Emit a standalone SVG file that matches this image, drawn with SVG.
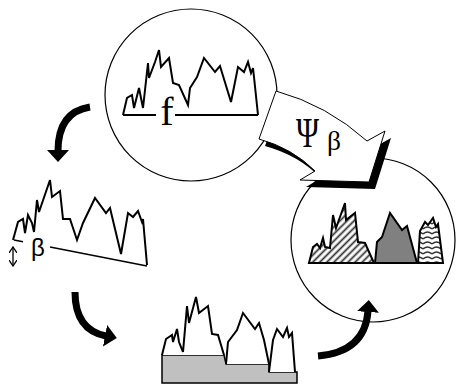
<svg xmlns="http://www.w3.org/2000/svg" width="457" height="385" viewBox="0 0 457 385">
<style>
.circ{fill:none;stroke:#000;stroke-width:1.2}
.curve{fill:none;stroke:#000;stroke-width:2;stroke-linejoin:miter}
.peak{stroke:#000;stroke-width:2;stroke-linejoin:miter}
.base{fill:none;stroke:#000;stroke-width:1.5}
.conn{fill:none;stroke:#000;stroke-width:7}
.serif{font-family:"Liberation Serif","Times New Roman",serif;fill:#000}
.sans{font-family:"Liberation Sans",Arial,sans-serif;fill:#000}
</style>
<defs>
<marker id="head" viewBox="0 0 12 22" refX="1" refY="11" markerWidth="12" markerHeight="22" markerUnits="userSpaceOnUse" orient="auto">
<path d="M0,0 L12,11 L0,22 Z" fill="#000"/>
</marker>
<marker id="small" viewBox="0 0 7 8" refX="6" refY="4" markerWidth="7" markerHeight="8" markerUnits="userSpaceOnUse" orient="auto-start-reverse">
<path d="M0,0 L6,4 L0,8" fill="none" stroke="#000" stroke-width="1.3"/>
</marker>
<pattern id="diag" patternUnits="userSpaceOnUse" width="5" height="5" patternTransform="rotate(45)">
<rect width="5" height="5" fill="#fff"/>
<line x1="1.5" y1="0" x2="1.5" y2="5" stroke="#333" stroke-width="1.8"/>
</pattern>
<pattern id="chev" patternUnits="userSpaceOnUse" width="9" height="5">
<rect width="9" height="5" fill="#fff"/>
<path d="M0,4 Q4.5,0 9,4" fill="none" stroke="#333" stroke-width="1.4"/>
</pattern>
</defs>

<g id="node-f">
<circle class="circ" cx="191" cy="95" r="86"/>
<path class="curve" d="M123,115 L127,98 L132,95 L134,108 L139,88 L143,108 L148,63 L149,78 L155,62 L159,50 L161,67 L169,58 L173,83 L179,85 L188,105 L190,88 L197,77 L204,58 L215,72 L220,66 L231,102 L238,67 L244,72 L248,62 L251,73 L253,68 L254,77 L258,115"/>
<line class="curve" x1="123" y1="115" x2="156" y2="115"/>
<line class="curve" x1="175" y1="115" x2="258" y2="115"/>
<text class="serif" x="167" y="125" font-size="40" text-anchor="middle">f</text>
</g>

<g id="node-result">
<circle class="circ" cx="373" cy="240" r="82"/>
<path class="peak" fill="url(#diag)" d="M309,263 L313,247 L317,244 L320,248 L323,238 L325,247 L330,248 L333,215 L336,228 L345,203 L346,220 L355,213 L358,242 L365,243 L374,263 Z"/>
<path class="peak" fill="#808080" d="M375,263 L377,242 L382,237 L390,213 L402,230 L407,226 L417,263 Z"/>
<path class="peak" fill="url(#chev)" d="M418,263 L420,231 L425,222 L428,225 L433,218 L436,227 L438,224 L443,263 Z"/>
<line class="curve" x1="309" y1="263" x2="443" y2="263"/>
</g>

<g id="node-tilted">
<path class="curve" d="M13,240 L18,222 L23,219 L25,233 L28,215 L32,223 L34,232 L37,200 L39,212 L50,180 L52,197 L60,191 L63,219 L70,219 L77,240 L83,223 L95,198 L106,213 L110,208 L121,254 L128,213 L133,217 L138,211 L142,222 L143,219 L147,265"/>
<line class="base" x1="14" y1="240" x2="23" y2="241.8"/>
<line class="base" x1="50" y1="247" x2="147" y2="266"/>
<line x1="13" y1="247" x2="13" y2="266" stroke="#000" stroke-width="1.3" marker-start="url(#small)" marker-end="url(#small)"/>
<text class="sans" x="31" y="256" font-size="24">β</text>
</g>

<g id="node-split">
<path fill="#c0c0c0" stroke="#000" stroke-width="1.5" d="M162,355 L224,355 L226,364 L269,364 L269,372 L297,372 L297,383 L162,383 Z"/>
<path class="peak" fill="#fff" d="M162,355 L166,339 L172,335 L173,342 L177,329 L179,342 L183,352 L187,306 L189,323 L196,297 L199,313 L208,306 L212,334 L218,335 L224,355"/>
<path class="peak" fill="#fff" d="M226,364 L228,342 L237,330 L243,313 L255,329 L259,323 L264,340 L269,364"/>
<path class="peak" fill="#fff" d="M269,372 L273,340 L277,329 L283,337 L287,328 L289,337 L292,333 L295,372"/>
</g>

<g id="connectors">
<path class="conn" d="M90,107 Q58,112 58,151" marker-end="url(#head)"/>
<path class="conn" d="M75,292 Q75,330 106,336" marker-end="url(#head)"/>
<path class="conn" d="M318,356 Q365,352 368,311" marker-end="url(#head)"/>
<g id="psi-arrow">
<path fill="#000" transform="translate(6,7)" d="M276,91 Q327,105 367,141 L385,131 L369,182 L300,180 L315,171 Q292,148 259,139 Z"/>
<path fill="#fff" stroke="#000" stroke-width="1" d="M276,91 Q327,105 367,141 L385,131 L369,182 L300,180 L315,171 Q292,148 259,139 Z"/>
<text class="serif" x="296" y="147" font-size="42" textLength="23" lengthAdjust="spacingAndGlyphs">Ψ</text>
<text class="serif" x="327" y="150" font-size="28" textLength="14" lengthAdjust="spacingAndGlyphs">β</text>
</g>
</g>
</svg>
